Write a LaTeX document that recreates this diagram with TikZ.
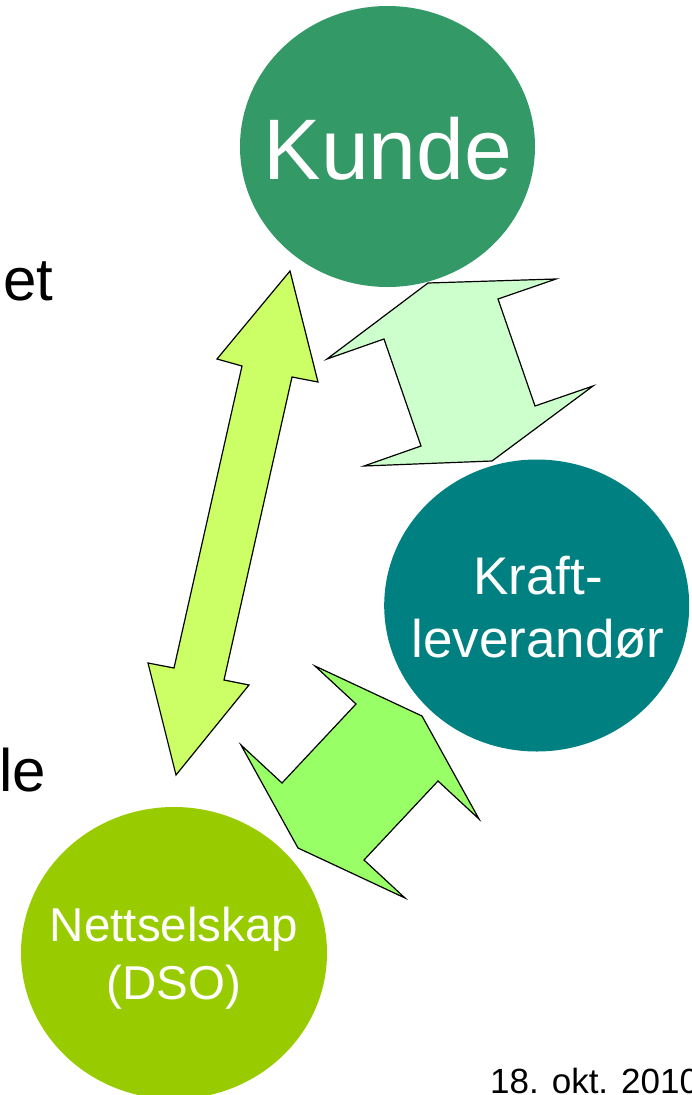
\documentclass[tikz,border=0pt]{standalone}
\usepackage{fontspec}
\setmainfont{Liberation Sans}
\usepackage{xcolor}
\usepackage{tikz}
\usetikzlibrary{shapes.geometric}
\definecolor{kundecol}{HTML}{339966}
\definecolor{kraftcol}{HTML}{008080}
\definecolor{nettcol}{HTML}{99CC00}
\definecolor{pilA}{HTML}{CCFF66}
\definecolor{pilB}{HTML}{CCFFCC}
\definecolor{pilC}{HTML}{99FF66}

\begin{document}
\begin{tikzpicture}[x=1pt,y=-1pt]
\tikzstyle{every node}=[inner sep=0pt];
\tikzstyle{aktor}=[shape=ellipse,draw=none];
\tikzstyle{aktortxt}=[text=white,align=center];
\tikzstyle{pil}=[draw=black,line width=1.2pt,line join=miter];
\useasboundingbox (0,0) rectangle (692,1095);
\path (387.5,146.5) node[aktor,fill=kundecol,minimum width=295pt,minimum height=281pt] (v0) {};
\path (536.7,605.5) node[aktor,fill=kraftcol,minimum width=305pt,minimum height=292pt] (v1) {};
\path (174,953) node[aktor,fill=nettcol,minimum width=306pt,minimum height=292pt] (v2) {};
\path (388,149) node[aktortxt,font=\fontsize{86}{100}\selectfont] (t0) {Kunde};
\path (538,607) node[aktortxt,font=\fontsize{53}{63}\selectfont] (t1) {Kraft-\\leverandør};
\path (174,958) node[aktortxt,font=\fontsize{47.5}{58}\selectfont] (t2) {Nettselskap\\(DSO)};
\filldraw[pil,fill=pilA] (290,271) -- (318,382) -- (292,377) -- (224,680) -- (249,685)
  -- (176,775) -- (148,663) -- (174,668) -- (242,366) -- (217,359) -- cycle;
\filldraw[pil,fill=pilB] (428,283) -- (556,279) -- (498,299) -- (535,406) -- (593,386)
  -- (492,461) -- (364,466) -- (421,446) -- (384,339) -- (327,359) -- cycle;
\filldraw[pil,fill=pilC] (315,666) -- (422,716) -- (479,819) -- (438,781) -- (364,860)
  -- (405,898) -- (298,848) -- (241,745) -- (282,783) -- (356,704) -- cycle;
\path (3,300) node[anchor=base west,font=\fontsize{60}{72}\selectfont] (s0) {et};
\path (-1,791) node[anchor=base west,font=\fontsize{60}{72}\selectfont] (s1) {le};
\path (490,1093) node[anchor=base west,font=\fontsize{35}{42}\selectfont] (d0) {18. okt. 2010};
\end{tikzpicture}
\end{document}
